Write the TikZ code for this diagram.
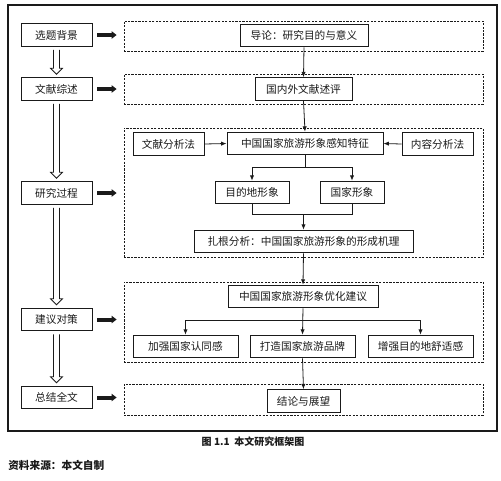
\documentclass[tikz,border=0pt]{standalone}
\usepackage{fontspec}
\setmainfont{Noto Sans CJK SC}
\usetikzlibrary{arrows.meta,positioning,calc}
\definecolor{ink}{HTML}{1A1A1A}
\tikzset{
  box/.style={draw=ink,line width=0.7pt,minimum height=17pt,inner sep=0pt,font=\fontsize{8}{10}\selectfont,text=ink},
  dbox/.style={draw=ink,line width=0.6pt,dash pattern=on 1.6pt off 1pt,minimum width=269.25pt},
  ln/.style={draw=ink,line width=0.6pt},
  ar/.style={ln,-{Latex[length=4pt,width=3.2pt]}},
  fat/.style={draw=ink,line width=3pt,-{Triangle[length=3.75pt,width=5.5pt]},shorten <=3.75pt,shorten >=5.25pt},
  hol/.style={draw=ink,line width=0.6pt,line join=miter},
}
\newcommand{\harrow}[2]{%
  \draw[hol] ($(#1.south)+(-3,3)$) -- ($(#2.north)+(-3,-9)$) -- ($(#2.north)+(-6,-9)$)
    -- ($(#2.north)+(0,-3)$) -- ($(#2.north)+(6,-9)$) -- ($(#2.north)+(3,-9)$) -- ($(#1.south)+(3,3)$);}

\begin{document}
\begin{tikzpicture}[x=0.75pt,y=-0.75pt]
\useasboundingbox (0,0) rectangle (501,480);
\draw[ln,line width=0.8pt] (8,5) rectangle (497,431);

% left column
\node[box,minimum width=53.25pt] (bg)   at (56.5,35)    {选题背景};
\node[box,minimum width=53.25pt] (lit)  at (56.5,89)    {文献综述};
\node[box,minimum width=53.25pt] (proc) at (56.5,193)   {研究过程};
\node[box,minimum width=53.25pt] (sug)  at (56.5,319.5) {建议对策};
\node[box,minimum width=53.25pt] (summ) at (56.5,397.5) {总结全文};

\harrow{bg}{lit}
\harrow{lit}{proc}
\harrow{proc}{sug}
\harrow{sug}{summ}

% dashed rows
\node[dbox,minimum height=22.5pt]  (r1) at (303.5,36)    {};
\node[dbox,minimum height=22.5pt]  (r2) at (303.5,89)    {};
\node[dbox,minimum height=96.75pt] (r3) at (303.5,192.5) {};
\node[dbox,minimum height=60pt]    (r4) at (303.5,322)   {};
\node[dbox,minimum height=23.25pt] (r5) at (303.5,399.5) {};

\draw[fat] (bg.east)   -- (bg.east -| r1.west);
\draw[fat] (lit.east)  -- (lit.east -| r2.west);
\draw[fat] (proc.east) -- (proc.east -| r3.west);
\draw[fat] (sug.east)  -- (sug.east -| r4.west);
\draw[fat] (summ.east) -- (summ.east -| r5.west);

% content
\node[box,minimum width=96pt]     (intro)   at (304,35.5)   {导论：研究目的与意义};
\node[box,minimum width=72.75pt]  (review)  at (303.5,89)   {国内外文献述评};
\node[box,minimum width=53.25pt]  (mlit)    at (168.5,144)  {文献分析法};
\node[box,minimum width=117pt]    (feat)    at (305,143.5)  {中国国家旅游形象感知特征};
\node[box,minimum width=53.25pt]  (mcon)    at (437.5,144)  {内容分析法};
\node[box,minimum width=55.5pt]   (dest)    at (252,192.5)  {目的地形象};
\node[box,minimum width=48pt]     (nation)  at (352,192.5)  {国家形象};
\node[box,minimum width=164.25pt] (ground)  at (303.5,241.5){扎根分析：中国国家旅游形象的形成机理};
\node[box,minimum width=112.5pt]  (optim)   at (303,296.5)  {中国国家旅游形象优化建议};
\node[box,minimum width=78.75pt]  (ident)   at (185.5,346.5){加强国家认同感};
\node[box,minimum width=78.75pt]  (brand)   at (302.5,346.5){打造国家旅游品牌};
\node[box,minimum width=78.75pt]  (comfort) at (420.5,346.5){增强目的地舒适感};
\node[box,minimum width=54.75pt]  (concl)   at (303.5,401)  {结论与展望};

\draw[ar] (intro.south) -- (review.north);
\draw[ar] (review.south) -- (feat.north);
\draw[ar] (mlit.east) -- (feat.west);
\draw[ar] (mcon.west) -- (feat.east);
\coordinate (fsplit) at ($(feat.south)+(0,12)$);
\draw[ln] (feat.south) -- (fsplit);
\draw[ar] (fsplit) -| (dest.north);
\draw[ar] (fsplit) -| (nation.north);
\coordinate (gjoin) at ($(ground.north)+(0,-15)$);
\draw[ln] (dest.south) |- (gjoin) -| (nation.south);
\draw[ar] (gjoin) -- (ground.north);
\draw[ar] (ground.south) -- (optim.north);
\coordinate (osplit) at ($(optim.south)+(0,12)$);
\draw[ar] (optim.south) -- (brand.north);
\draw[ar] (osplit) -| (ident.north);
\draw[ar] (osplit) -| (comfort.north);
\draw[ar] (brand.south) -- (concl.north);

\node[font=\fontsize{7.5}{9}\selectfont\bfseries,text=ink] (cap) at (253,442) {图 1.1\ \ 本文研究框架图};
\node[font=\fontsize{8}{10}\selectfont\bfseries,text=ink,anchor=west,inner sep=0pt] (src) at (8,465) {资料来源：本文自制};
\end{tikzpicture}
\end{document}
